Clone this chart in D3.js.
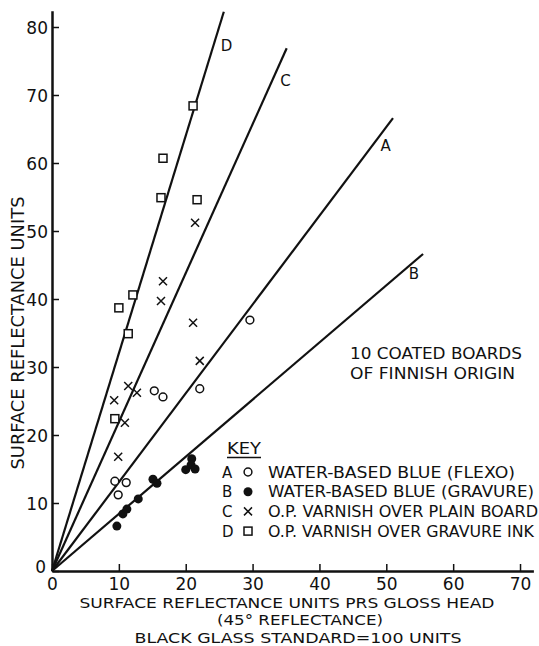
<!DOCTYPE html>
<html>
<head>
<meta charset="utf-8">
<script src="https://cdn.jsdelivr.net/npm/d3@7"></script>
<style>
  body { margin: 0; background: #fff; }
  svg text { font-family: "DejaVu Sans", sans-serif; fill: #111; }
</style>
</head>
<body>
<svg width="539" height="646"></svg>
<script>
// tick labels
const xTicks = [0, 10, 20, 30, 40, 50, 60, 70];
const yTicks = [0, 10, 20, 30, 40, 50, 60, 70, 80];

// A: water-based blue (flexo), open circles
const pointsA = [[9.4, 13.2], [11.1, 13.0], [9.9, 11.2], [15.3, 26.5], [16.6, 25.6], [22.1, 26.8], [29.6, 36.9]];
// B: water-based blue (gravure), filled circles
const pointsB = [[9.7, 6.6], [10.6, 8.4], [11.2, 9.1], [12.9, 10.6], [15.1, 13.5], [15.7, 12.9], [20.0, 14.9], [20.9, 16.5], [20.8, 15.6], [21.4, 15.0]];
// C: O.P. varnish over plain board, crosses
const pointsC = [[21.4, 51.2], [16.6, 42.6], [16.3, 39.7], [21.1, 36.5], [22.1, 30.9], [11.4, 27.2], [12.7, 26.2], [9.3, 25.1], [10.9, 21.8], [9.9, 16.8]];
// D: O.P. varnish over gravure ink, squares
const pointsD = [[21.1, 68.4], [16.6, 60.7], [16.3, 54.9], [21.7, 54.6], [12.1, 40.6], [10.0, 38.7], [11.4, 34.9], [9.4, 22.4]];

// fitted lines through the origin: name, slope, x at the end of the line
const lineNames = ['A', 'B', 'C', 'D'];
const lineSlopes = [1.306, 0.840, 2.19, 3.2];
const lineEnds = [51.0, 55.5, 35.1, 25.7];

const keyLetters = ['A', 'B', 'C', 'D'];
const keyLabels = [
  'WATER-BASED BLUE (FLEXO)',
  'WATER-BASED BLUE (GRAVURE)',
  'O.P. VARNISH OVER PLAIN BOARD',
  'O.P. VARNISH OVER GRAVURE INK'
];

const svg = d3.select('svg');

const x = d3.scaleLinear().domain([0, 72]).range([52, 52 + 72 * 6.686]);
const y = d3.scaleLinear().domain([0, 82.4]).range([571, 571 - 82.4 * 6.8]);

// axes
const xAxis = svg.append('g')
    .attr('transform', 'translate(0,' + y(0) + ')')
    .call(d3.axisBottom(x).tickValues(xTicks).tickSizeInner(-7).tickSizeOuter(0).tickPadding(7));
const yAxis = svg.append('g')
    .attr('transform', 'translate(' + x(0) + ',0)')
    .call(d3.axisLeft(y).tickValues(yTicks).tickSizeInner(-7).tickSizeOuter(0).tickPadding(4));
[xAxis, yAxis].forEach(function(g) {
  g.select('.domain').attr('stroke', '#111').attr('stroke-width', 2.5);
  g.selectAll('.tick line').attr('stroke', '#111').attr('stroke-width', 1.5);
  g.selectAll('.tick text').attr('font-size', 17).attr('fill', '#111')
      .style('font-family', '"DejaVu Sans", sans-serif');
});
yAxis.selectAll('.tick text').attr('dy', '0.36em');
yAxis.selectAll('.tick').filter(function(d) { return d === 0; }).select('text').attr('dy', '0.1em').attr('x', -6);

// fitted lines
const lines = svg.append('g');
lineNames.forEach(function(name, i) {
  const xe = lineEnds[i], ye = lineSlopes[i] * xe;
  lines.append('line')
      .attr('x1', x(0)).attr('y1', y(0))
      .attr('x2', x(xe)).attr('y2', y(ye))
      .attr('stroke', '#111').attr('stroke-width', 2.2);
  const t = 0.94;
  lines.append('text')
      .attr('x', x(xe * t) + 13)
      .attr('y', y(ye * t) + 6)
      .attr('text-anchor', 'middle')
      .attr('font-size', 15)
      .text(name);
});

// markers
function marker(g, type, cx, cy) {
  if (type === 'circle') {
    g.append('circle').attr('cx', cx).attr('cy', cy).attr('r', 3.9)
        .attr('fill', '#fff').attr('stroke', '#111').attr('stroke-width', 1.5);
  } else if (type === 'dot') {
    g.append('circle').attr('cx', cx).attr('cy', cy).attr('r', 4.5).attr('fill', '#111');
  } else if (type === 'cross') {
    const s = 4;
    g.append('path')
        .attr('d', 'M' + (cx - s) + ',' + (cy - s) + 'L' + (cx + s) + ',' + (cy + s) +
                   'M' + (cx - s) + ',' + (cy + s) + 'L' + (cx + s) + ',' + (cy - s))
        .attr('stroke', '#111').attr('stroke-width', 1.5);
  } else {
    g.append('rect').attr('x', cx - 4).attr('y', cy - 4).attr('width', 8).attr('height', 8)
        .attr('fill', '#fff').attr('stroke', '#111').attr('stroke-width', 1.5);
  }
}

const series = [[pointsA, 'circle'], [pointsB, 'dot'], [pointsC, 'cross'], [pointsD, 'square']];
const marks = svg.append('g');
series.forEach(function(s) {
  s[0].forEach(function(p) { marker(marks, s[1], x(p[0]), y(p[1])); });
});

// axis titles
svg.append('text')
    .attr('transform', 'translate(24,333) rotate(-90)')
    .attr('text-anchor', 'middle')
    .attr('font-size', 18)
    .attr('textLength', 273).attr('lengthAdjust', 'spacingAndGlyphs')
    .text('SURFACE REFLECTANCE UNITS');

const xTitle = [
  ['SURFACE REFLECTANCE UNITS PRS GLOSS HEAD', 287, 607.5, 415],
  ['(45° REFLECTANCE)', 300, 625, 166],
  ['BLACK GLASS STANDARD=100 UNITS', 298, 642.5, 327]
];
xTitle.forEach(function(t) {
  svg.append('text')
      .attr('x', t[1]).attr('y', t[2])
      .attr('text-anchor', 'middle')
      .attr('font-size', 14.5)
      .attr('textLength', t[3]).attr('lengthAdjust', 'spacingAndGlyphs')
      .text(t[0]);
});

// note
svg.append('text').attr('x', 350).attr('y', 359).attr('font-size', 16)
    .attr('textLength', 172).attr('lengthAdjust', 'spacingAndGlyphs')
    .text('10 COATED BOARDS');
svg.append('text').attr('x', 350).attr('y', 379).attr('font-size', 16)
    .attr('textLength', 165).attr('lengthAdjust', 'spacingAndGlyphs')
    .text('OF FINNISH ORIGIN');

// key
const key = svg.append('g');
key.append('text').attr('x', 227).attr('y', 454).attr('font-size', 15)
    .attr('textLength', 34).attr('lengthAdjust', 'spacingAndGlyphs')
    .text('KEY');
key.append('line').attr('x1', 227).attr('x2', 261).attr('y1', 457.5).attr('y2', 457.5)
    .attr('stroke', '#111').attr('stroke-width', 1.3);
const keyLengths = [247, 266, 270, 266];
keyLetters.forEach(function(l, i) {
  const cy = 472 + i * 19.7;
  key.append('text').attr('x', 222).attr('y', cy + 5.5).attr('font-size', 15).text(l);
  marker(key, series[i][1], 248, cy);
  key.append('text').attr('x', 268).attr('y', cy + 5.5).attr('font-size', 15)
      .attr('textLength', keyLengths[i]).attr('lengthAdjust', 'spacingAndGlyphs')
      .text(keyLabels[i]);
});
</script>
</body>
</html>
